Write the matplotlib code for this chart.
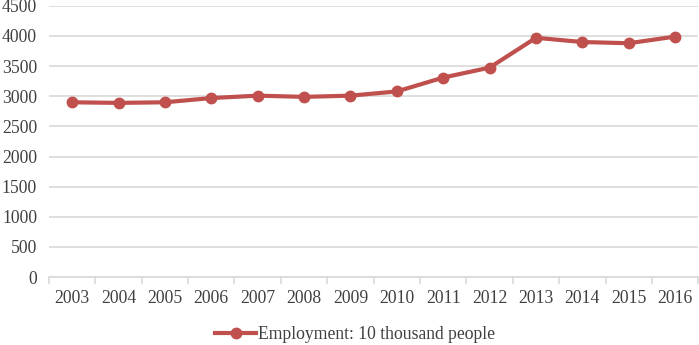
import matplotlib
matplotlib.use("Agg")
import numpy as np
import matplotlib.pyplot as plt

### data ###
years = ['2003', '2004', '2005', '2006', '2007', '2008', '2009',
         '2010', '2011', '2012', '2013', '2014', '2015', '2016']
employment = [2900, 2890, 2900, 2970, 3010, 2990, 3010,
              3080, 3310, 3475, 3970, 3900, 3880, 3990]
yticks = [0, 500, 1000, 1500, 2000, 2500, 3000, 3500, 4000, 4500]

plt.rcParams['font.family'] = ['Liberation Serif', 'DejaVu Serif']

red = '#C0504D'
grid = '#D9D9D9'
txt = '#404040'

fig = plt.figure(figsize=(6.99, 3.45), dpi=100)
ax = fig.add_axes([0.070, 0.197, 0.929, 0.786])

x = np.arange(len(years))
ax.plot(x, employment, color=red, linewidth=3, marker='o', markersize=7.5,
        label='Employment: 10 thousand people')

ax.set_xlim(-0.5, len(years) - 0.5)
ax.set_ylim(0, 4500)
ax.set_yticks(yticks)
ax.set_xticks(x)
ax.set_xticklabels(years)
ax.set_xticks(np.arange(-0.5, len(years)), minor=True)

ax.yaxis.grid(True, color=grid, linewidth=1.2)
ax.set_axisbelow(True)
for s in ['top', 'right', 'left']:
    ax.spines[s].set_visible(False)
ax.spines['bottom'].set_color(grid)
ax.spines['bottom'].set_linewidth(1.2)

ax.tick_params(axis='x', which='major', length=0, pad=9, labelsize=12.7, labelcolor=txt)
ax.tick_params(axis='x', which='minor', length=5, width=1.2, color=grid)
ax.tick_params(axis='y', length=0, pad=8.5, labelsize=12.7, labelcolor=txt)

leg = fig.legend(loc='center', bbox_to_anchor=(0.508, 0.03), frameon=False,
                 fontsize=12.7, handlelength=2.3, handletextpad=0.1)
for t in leg.get_texts():
    t.set_color(txt)

fig.savefig('out.png', dpi=100)
